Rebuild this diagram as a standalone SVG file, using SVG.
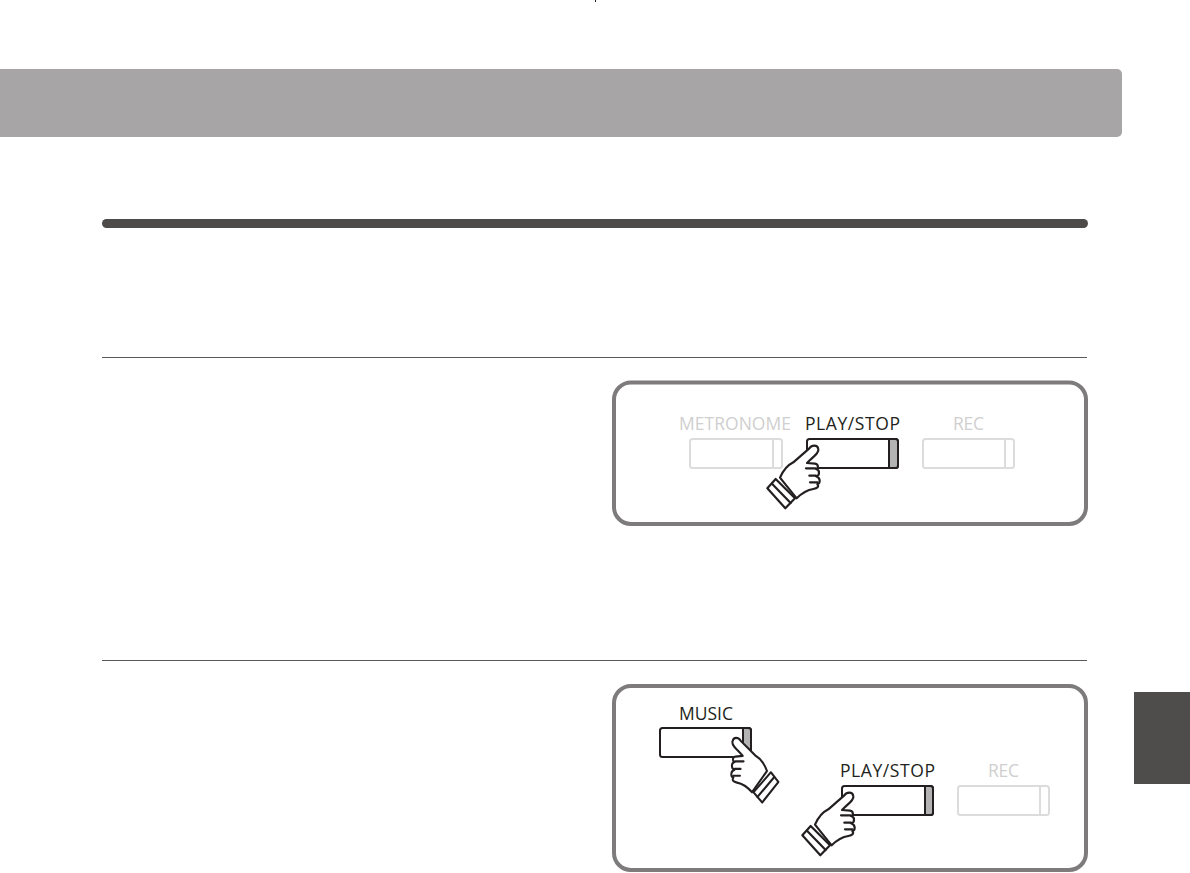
<svg xmlns="http://www.w3.org/2000/svg" width="1190" height="873" viewBox="0 0 1190 873">
<style>
.panel{fill:#fff;stroke:#7d7b7b;stroke-width:4}
.rule{stroke:#5a5858;stroke-width:1;fill:none}
.btn{fill:#fff;stroke:#231f20;stroke-width:2}
.btn-off{fill:#fff;stroke:#dcdcdc;stroke-width:2}
.seg{fill:#b3b3b3;stroke:#231f20;stroke-width:2}
.div-off{stroke:#dcdcdc;stroke-width:2;fill:none}
.lab{font-family:"Open Sans","Noto Sans",sans-serif;font-size:17.500px;fill:#231f20}
.lab-off{font-family:"Open Sans","Noto Sans",sans-serif;font-size:17.500px;fill:#cfcfcf}
.hand{fill:#fff;stroke:#231f20;stroke-width:6.500;stroke-linejoin:round;stroke-linecap:round}
</style>
<defs>
<g id="hand" transform="scale(.3333)">
<path class="hand" d="M60 128C70 105 80 92 100 82L148 40C155 30 172 28 175 42C178 52 165 62 150 75L141 84L165 86C176 88 176 100 168 102C182 105 178 124 168 124C182 128 182 145 172 147C178 155 172 160 160 162C140 165 125 175 110 190Z"/>
<path class="hand" d="M138 100H166M148 122H168M150 142H172"/>
<path class="hand" d="M22 160L47 132L105 190L76 220Z"/>
<path class="hand" d="M36 146L92 204"/>
</g>
</defs>
<rect width="1190" height="873" fill="#fff"/>
<rect x="595" y="0" width="1" height="2" fill="#231f20"/>
<g id="header"><rect x="-10" y="69" width="1132" height="68" rx="5" fill="#a7a5a5"/></g>
<g id="title-rule"><rect x="102" y="219" width="986" height="9" rx="4.500" fill="#4d4a4a"/></g>
<g id="section-rules"><path class="rule" d="M102 357.500H1087M102 660.500H1087"/></g>
<g id="side-tab"><rect x="1134" y="692" width="56" height="92" fill="#4f4c4c"/></g>
<g id="panel-1">
<rect class="panel" x="614" y="382.500" width="472" height="141.500" rx="17"/>
<g id="p1-metronome"><text class="lab-off" x="679" y="430" textLength="112">METRONOME</text><rect class="btn-off" x="690" y="439" width="92" height="29" rx="2.500"/><path class="div-off" d="M773 439V468"/></g>
<g id="p1-play"><text class="lab" x="805" y="430" textLength="95">PLAY/STOP</text><rect class="btn" x="807" y="439" width="91" height="29" rx="2.500"/><path class="seg" d="M889 439H895.500Q898 439 898 441.500V465.500Q898 468 895.500 468H889Z"/></g>
<g id="p1-rec"><text class="lab-off" x="953" y="430" textLength="31">REC</text><rect class="btn-off" x="923" y="439" width="91" height="29" rx="2.500"/><path class="div-off" d="M1005 439V468"/></g>
<use id="p1-hand" href="#hand" transform="translate(760 435)"/>
</g>
<g id="panel-2">
<rect class="panel" x="614" y="686" width="472" height="184" rx="17"/>
<g id="p2-music"><text class="lab" x="679" y="720" textLength="54">MUSIC</text><rect class="btn" x="660" y="728" width="91" height="29" rx="2.500"/><path class="seg" d="M743 728H748.500Q751 728 751 730.500V754.500Q751 757 748.500 757H743Z"/></g>
<g id="p2-play"><text class="lab" x="840" y="777" textLength="95">PLAY/STOP</text><rect class="btn" x="842" y="786" width="91" height="29" rx="2.500"/><path class="seg" d="M925 786H930.500Q933 786 933 788.500V812.500Q933 815 930.500 815H925Z"/></g>
<g id="p2-rec"><text class="lab-off" x="988" y="777" textLength="31">REC</text><rect class="btn-off" x="958" y="786" width="91" height="29" rx="2.500"/><path class="div-off" d="M1040 786V815"/></g>
<use id="p2-hand-left" href="#hand" transform="translate(785 727) scale(-.9 1.03)"/>
<use id="p2-hand-right" href="#hand" transform="translate(795 782)"/>
</g>
</svg>
